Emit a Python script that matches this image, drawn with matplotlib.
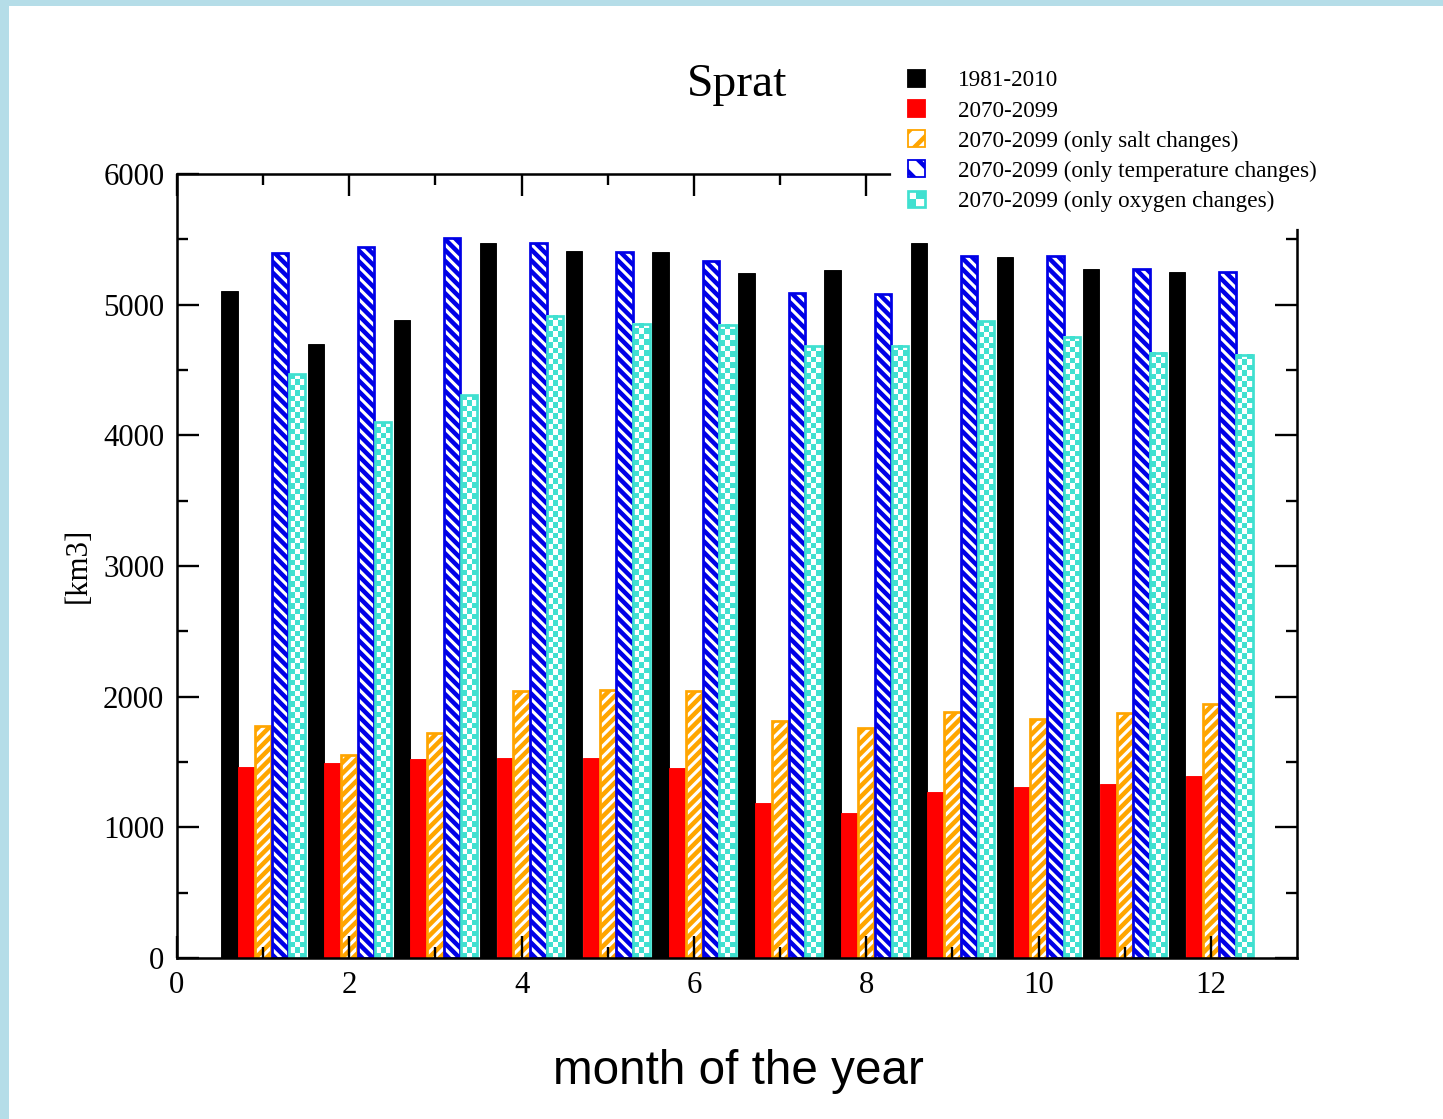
import numpy as np
import matplotlib
matplotlib.use("Agg")
import matplotlib.pyplot as plt
from matplotlib.patches import Rectangle
from matplotlib.colors import ListedColormap
from matplotlib.legend_handler import HandlerBase

# Monthly habitat volume [km3]
months = np.arange(1, 13)
ref_1981_2010 = [5105, 4700, 4880, 5470, 5410, 5400, 5240, 5265, 5475, 5367, 5273, 5247]
fut_2070_2099 = [1465, 1495, 1523, 1531, 1533, 1456, 1186, 1107, 1269, 1309, 1329, 1390]
only_salt = [1775, 1551, 1720, 2046, 2053, 2041, 1811, 1760, 1885, 1827, 1877, 1946]
only_temp = [5393, 5439, 5513, 5472, 5406, 5334, 5089, 5084, 5370, 5370, 5270, 5250]
only_oxygen = [4467, 4100, 4306, 4916, 4854, 4847, 4681, 4686, 4875, 4755, 4632, 4615]

labels = ["1981-2010", "2070-2099", "2070-2099 (only salt changes)",
          "2070-2099 (only temperature changes)", "2070-2099 (only oxygen changes)"]
xticks_major = [0, 2, 4, 6, 8, 10, 12]
yticks_major = [0, 1000, 2000, 3000, 4000, 5000, 6000]

BLACK, RED, ORANGE, BLUE, TURQ = "#000000", "#ff0000", "#ffa500", "#0000e6", "#40e0d0"

plt.rcParams["font.family"] = ["Liberation Serif", "DejaVu Serif"]
plt.rcParams["hatch.linewidth"] = 2.5

DPI = 130
W, H = 1443, 1119
fig = plt.figure(figsize=(W / DPI, H / DPI), dpi=DPI)
fig.patch.set_facecolor("white")

# light-blue page frame along top and left edges
fig.patches.append(Rectangle((0, 1 - 6 / H), 1, 6 / H, transform=fig.transFigure,
                             facecolor="#b5dde8", edgecolor="none", zorder=0))
fig.patches.append(Rectangle((0, 0), 9 / W, 1, transform=fig.transFigure,
                             facecolor="#b5dde8", edgecolor="none", zorder=0))

left, right, bottom, top = 177, 1297, 958, 174
ax = fig.add_axes([left / W, 1 - bottom / H, (right - left) / W, (bottom - top) / H])
ax.set_xlim(0, 13)
ax.set_ylim(0, 6000)

bw = 0.19
offsets = [-0.39, -0.195, 0.0, 0.195, 0.39]

ax.bar(months + offsets[0], ref_1981_2010, bw, color=BLACK, edgecolor=BLACK, lw=0.5, zorder=1)
ax.bar(months + offsets[1], fut_2070_2099, bw, color=RED, edgecolor=RED, lw=0.5, zorder=1)
ax.bar(months + offsets[2], only_salt, bw, facecolor="white", edgecolor=ORANGE,
       hatch="////", lw=1.5, zorder=1)
ax.bar(months + offsets[3], only_temp, bw, facecolor="white", edgecolor=BLUE,
       hatch="\\\\\\\\", lw=1.5, zorder=1)

# checkered bars: square cells of equal pixel size
px_per_x = (right - left) / 13.0
px_per_y = (bottom - top) / 6000.0
ncols = 3
cell_px = bw * px_per_x / ncols
cell_h = cell_px / px_per_y
checker_cmap = ListedColormap([TURQ, "white"])
for xc, h in zip(months + offsets[4], only_oxygen):
    nrows = max(1, int(round(h / cell_h)))
    img = np.add.outer(np.arange(nrows), np.arange(ncols)) % 2
    ax.imshow(img, extent=(xc - bw / 2, xc + bw / 2, 0, h), cmap=checker_cmap,
              interpolation="nearest", aspect="auto", origin="lower", zorder=1)
ax.bar(months + offsets[4], only_oxygen, bw, facecolor="none", edgecolor=TURQ,
       lw=1.5, zorder=1.1)

ax.set_xlim(0, 13)
ax.set_ylim(0, 6000)
ax.set_xticks(xticks_major)
ax.set_xticks(np.arange(1, 13, 2), minor=True)
ax.set_yticks(yticks_major)
ax.set_yticks(np.arange(500, 6000, 1000), minor=True)
ax.tick_params(which="both", direction="in", top=True, right=True, width=1.3,
               labelsize=17, pad=7)
ax.tick_params(which="major", length=12)
ax.tick_params(which="minor", length=6)
for sp in ax.spines.values():
    sp.set_linewidth(1.4)


class CheckerHandler(HandlerBase):
    def create_artists(self, legend, orig_handle, xdescent, ydescent, width,
                       height, fontsize, trans):
        arts = []
        n = 2
        for i in range(n):
            for j in range(n):
                col = TURQ if (i + j) % 2 == 0 else "white"
                arts.append(Rectangle((-xdescent + i * width / n, -ydescent + j * height / n),
                                      width / n, height / n, facecolor=col,
                                      edgecolor="none", transform=trans))
        arts.append(Rectangle((-xdescent, -ydescent), width, height, facecolor="none",
                              edgecolor=TURQ, lw=1.5, transform=trans))
        return arts


h_black = Rectangle((0, 0), 1, 1, facecolor=BLACK, edgecolor=BLACK)
h_red = Rectangle((0, 0), 1, 1, facecolor=RED, edgecolor=RED)
h_salt = Rectangle((0, 0), 1, 1, facecolor="white", edgecolor=ORANGE, hatch="//")
h_temp = Rectangle((0, 0), 1, 1, facecolor="white", edgecolor=BLUE, hatch="\\\\")
h_oxy = Rectangle((0, 0), 1, 1, facecolor=TURQ)

leg = ax.legend([h_black, h_red, h_salt, h_temp, h_oxy], labels,
                handler_map={h_oxy: CheckerHandler()},
                loc="upper left", bbox_to_anchor=(892 / W, 1 - 54 / H),
                bbox_transform=fig.transFigure, borderaxespad=0,
                fontsize=12.8, frameon=True, fancybox=False, framealpha=1,
                edgecolor="white", facecolor="white", borderpad=0.7,
                handlelength=0.72, handleheight=0.72, handletextpad=1.44,
                labelspacing=0.38)
leg.set_zorder(5)

fig.text(737 / W, 1 - 85 / H, "Sprat", ha="center", va="center", fontsize=26.3)
fig.text(738 / W, 1 - 1071 / H, "month of the year", ha="center", va="center",
         fontsize=26.4, family=["Liberation Sans", "DejaVu Sans"])
fig.text(78 / W, 1 - 565 / H, "[km3]", ha="center", va="center", rotation=90,
         fontsize=17)

fig.savefig("out.png", dpi=DPI, facecolor="white")
